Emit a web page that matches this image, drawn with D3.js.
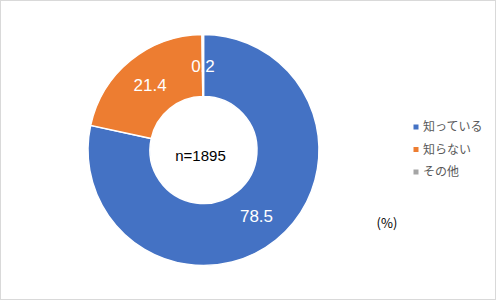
<!DOCTYPE html>
<html><head><meta charset="utf-8">
<script src="https://cdn.jsdelivr.net/npm/d3@7"></script>
<style>html,body{margin:0;padding:0;background:#fff;}svg{display:block;}</style>
</head><body>
<svg id="c" width="496" height="300"></svg>
<script>
const categories = ["知っている", "知らない", "その他"];
const values = [78.5, 21.4, 0.2];
const colors = ["#4472C4", "#ED7D31", "#A5A5A5"];
const sampleLabel = "n=1895";
const unitLabel = "(%)";

const svg = d3.select("#c");
svg.append("rect").attr("x",0.5).attr("y",0.5).attr("width",495).attr("height",299)
  .attr("fill","#fff").attr("stroke","#d9d9d9");

const cx = 203.5, cy = 150, rOut = 115.5, rIn = 53.5;
const pie = d3.pie().sort(null).value(d => d)(values);
const arc = d3.arc().innerRadius(rIn).outerRadius(rOut);
const g = svg.append("g").attr("transform", `translate(${cx},${cy})`);
g.selectAll("path").data(pie).join("path")
  .attr("d", arc).attr("fill", (d,i) => colors[i])
  .attr("stroke", "#fff").attr("stroke-width", 1.5);
g.selectAll("text.v").data(pie).join("text").attr("class","v")
  .attr("transform", d => `translate(${arc.centroid(d)})`)
  .attr("text-anchor","middle").attr("dy","0.36em")
  .attr("fill","#fff").attr("font-family","'Liberation Sans', Arial, sans-serif")
  .attr("font-size",17).text(d => d.data.toFixed(1));
g.append("text").attr("x",-3).attr("y",6).attr("text-anchor","middle")
  .attr("dy","0.36em").attr("font-family","'Liberation Sans', Arial, sans-serif")
  .attr("font-size",15).attr("fill","#000").text(sampleLabel);

const ly = d3.scalePoint().domain(categories).range([127, 172]);
const lg = svg.append("g");
categories.forEach((c,i) => {
  lg.append("rect").attr("x",413.5).attr("y",ly(c)-2.5).attr("width",5).attr("height",5).attr("fill",colors[i]);
  lg.append("text").attr("x",423).attr("y",ly(c)).attr("dy","0.36em")
    .attr("font-family","'Noto Sans CJK JP', sans-serif").attr("font-size",12)
    .attr("fill","#595959").text(c);
});
svg.append("text").attr("x",387).attr("y",223).attr("dy","0.36em").attr("text-anchor","middle")
  .attr("font-family","'Noto Sans CJK JP', sans-serif").attr("font-size",13)
  .attr("fill","#000").text(unitLabel);
</script>
</body></html>
